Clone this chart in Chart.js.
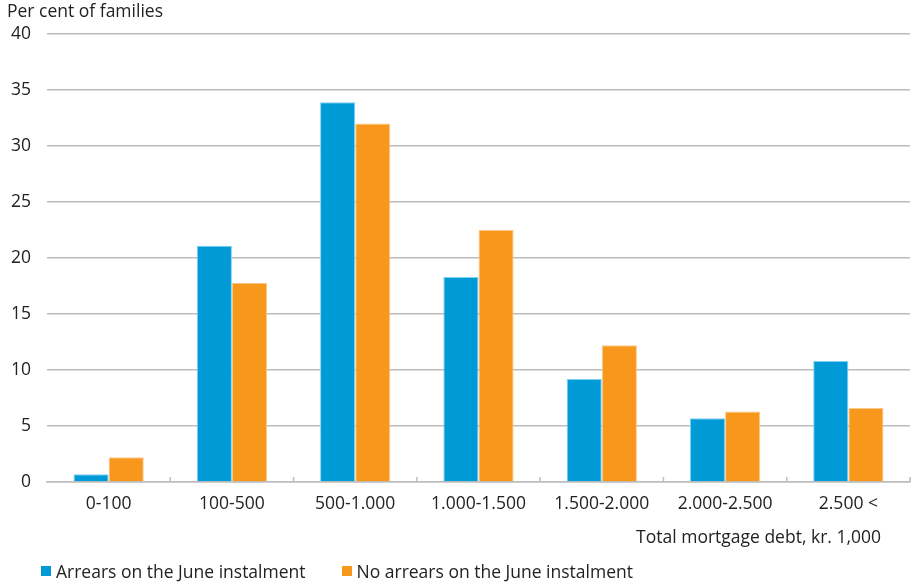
<!DOCTYPE html>
<html>
<head>
<meta charset="utf-8">
<script src="https://cdn.jsdelivr.net/npm/chart.js@4/dist/chart.umd.min.js"></script>
<style>
  html, body { margin: 0; padding: 0; background: #fff; }
  #wrap { position: relative; width: 913px; height: 584px; }
  #legend { position: absolute; left: 41px; top: 559px; display: flex; font: 17.5px "Open Sans", sans-serif; color: #222; }
  .item { display: flex; align-items: center; margin-right: 36px; }
  .box { width: 10px; height: 10px; margin-right: 5px; }
</style>
</head>
<body>
<div id="wrap">
  <canvas id="c" width="913" height="584"></canvas>
  <div id="legend"></div>
</div>
<script>
const categories = ["0-100", "100-500", "500-1.000", "1.000-1.500", "1.500-2.000", "2.000-2.500", "2.500 <"];
const arrears = [0.7, 21.1, 33.9, 18.3, 9.2, 5.7, 10.8];
const noArrears = [2.2, 17.8, 32.0, 22.5, 12.2, 6.3, 6.6];
const seriesNames = ["Arrears on the June instalment", "No arrears on the June instalment"];
const seriesColors = ["#009BD7", "#F7981D"];
const yTicks = [0, 5, 10, 15, 20, 25, 30, 35, 40];
const yTitle = "Per cent of families";
const xTitle = "Total mortgage debt, kr. 1,000";

const FONT = '"Open Sans", sans-serif';
const FS = 17.5;
const TEXT = "#222";
const GRID = "#bdbdbd";

const extras = {
  id: "extras",
  afterDraw(chart) {
    const ctx = chart.ctx;
    const a = chart.chartArea;
    const xs = chart.scales.x;
    ctx.save();
    ctx.strokeStyle = GRID;
    ctx.lineWidth = 1.5;
    const n = categories.length;
    const w = (a.right - a.left) / n;
    for (let i = 1; i <= n; i++) {
      const x = xs.getPixelForValue(i - 1) + w / 2;
      ctx.beginPath();
      ctx.moveTo(x, a.bottom - 5);
      ctx.lineTo(x, a.bottom);
      ctx.stroke();
    }
    ctx.fillStyle = TEXT;
    ctx.font = FS + "px " + FONT;
    ctx.textAlign = "right";
    ctx.textBaseline = "middle";
    ctx.fillText(xTitle, a.right - 29, 538);
    ctx.restore();
  }
};

new Chart(document.getElementById("c"), {
  type: "bar",
  data: {
    labels: categories,
    datasets: [
      { label: seriesNames[0], data: arrears, backgroundColor: seriesColors[0], borderColor: "#7fd0f0", borderWidth: 1 },
      { label: seriesNames[1], data: noArrears, backgroundColor: seriesColors[1], borderColor: "#fbc98a", borderWidth: 1 }
    ]
  },
  options: {
    responsive: false,
    animation: false,
    devicePixelRatio: 1,
    layout: { padding: { left: 7, right: 3, top: 0, bottom: 57 } },
    datasets: { bar: { categoryPercentage: 0.57, barPercentage: 1.0 } },
    plugins: {
      legend: { display: false },
      tooltip: { enabled: false },
      title: {
        display: true, text: yTitle, align: "start", color: TEXT,
        font: { family: FONT, size: FS, weight: "normal" },
        padding: { top: 2, bottom: 11 }
      }
    },
    scales: {
      x: {
        grid: { display: false, drawTicks: false },
        border: { display: true, color: GRID, width: 1.5 },
        ticks: { color: TEXT, font: { family: FONT, size: FS }, padding: 12, maxRotation: 0 }
      },
      y: {
        min: 0, max: 40,
        afterFit(scale) { scale.width = 40; },
        afterBuildTicks(scale) { scale.ticks = yTicks.map(v => ({ value: v })); },
        grid: { color: GRID, lineWidth: 1.5, drawTicks: false },
        border: { display: false },
        ticks: { color: TEXT, font: { family: FONT, size: FS }, padding: 16 }
      }
    }
  },
  plugins: [extras]
});

const leg = document.getElementById("legend");
seriesNames.forEach((name, i) => {
  const it = document.createElement("div");
  it.className = "item";
  const b = document.createElement("span");
  b.className = "box";
  b.style.background = seriesColors[i];
  const t = document.createElement("span");
  t.textContent = name;
  it.appendChild(b); it.appendChild(t);
  leg.appendChild(it);
});
</script>
</body>
</html>
